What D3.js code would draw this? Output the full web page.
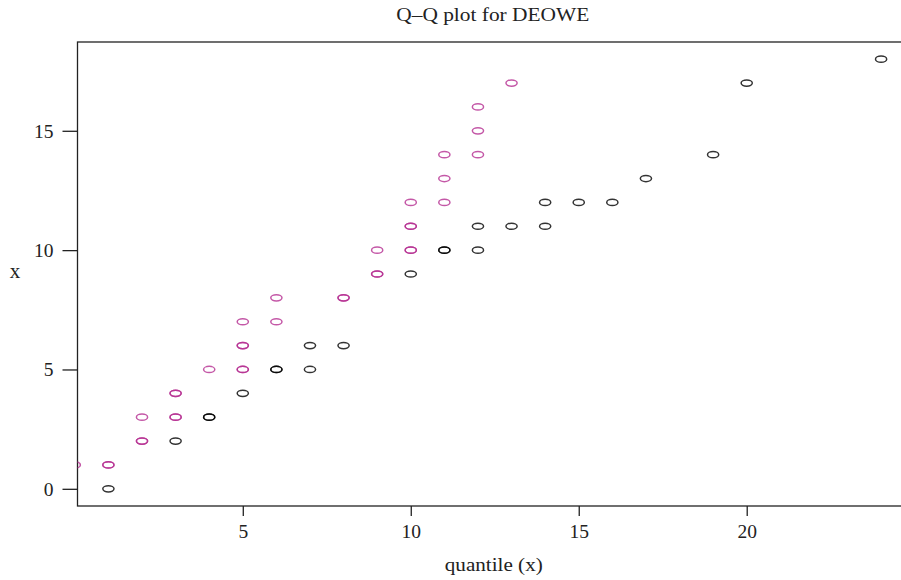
<!DOCTYPE html>
<html>
<head>
<meta charset="utf-8">
<script src="https://cdn.jsdelivr.net/npm/d3@7"></script>
<style>
  html, body { margin: 0; padding: 0; background: #fff; }
  svg { display: block; }
  text { font-family: "Liberation Serif", "DejaVu Serif", serif; fill: #222; }
</style>
</head>
<body>
<svg id="chart" width="901" height="580"></svg>
<script>
// ---- data ----
const blackX = [1, 3, 4, 4, 5, 6, 6, 7, 7, 8, 10, 11, 11, 12, 12, 13, 14, 14, 15, 16, 17, 19, 20, 24];
const blackY = [0, 2, 3, 3, 4, 5, 5, 5, 6, 6, 9, 10, 10, 10, 11, 11, 11, 12, 12, 12, 13, 14, 17, 18];
const magentaX = [0, 1, 1, 2, 2, 2, 3, 3, 3, 3, 4, 5, 5, 5, 5, 5, 6, 6, 8, 8, 9, 9, 9, 10, 10, 10, 10, 10, 11, 11, 11, 12, 12, 12, 13];
const magentaY = [1, 1, 1, 2, 2, 3, 3, 3, 4, 4, 5, 5, 5, 6, 6, 7, 7, 8, 8, 8, 9, 9, 10, 10, 10, 11, 11, 12, 12, 13, 14, 14, 15, 16, 17];
const xTicks = [5, 10, 15, 20];
const yTicks = [0, 5, 10, 15];
const titleText = "Q–Q plot for DEOWE";
const xLabel = "quantile (x)";
const yLabel = "x";

// ---- layout ----
const pLeft = 77.5, pRight = 912, pTop = 42, pBottom = 506;
const svg = d3.select("#chart");

const x = d3.scaleLinear().domain([0.08, 24.92]).range([pLeft, pRight]);
const y = d3.scaleLinear().domain([-0.72, 18.72]).range([pBottom, pTop]);

svg.append("defs").append("clipPath").attr("id", "plotclip")
  .append("rect").attr("x", pLeft).attr("y", pTop)
  .attr("width", pRight - pLeft).attr("height", pBottom - pTop);

// frame
svg.append("rect")
  .attr("x", pLeft).attr("y", pTop)
  .attr("width", pRight - pLeft).attr("height", pBottom - pTop)
  .attr("fill", "none").attr("stroke", "#222").attr("stroke-width", 1.3);

// x axis
const xAxis = d3.axisBottom(x).tickValues(xTicks).tickSize(10).tickPadding(8).tickFormat(d3.format("d"));
const gx = svg.append("g").attr("transform", `translate(0,${pBottom})`).call(xAxis);
gx.select(".domain").remove();
gx.selectAll(".tick line").attr("stroke", "#222").attr("stroke-width", 1.3);
gx.selectAll(".tick text").attr("font-size", 19.5).attr("fill", "#222")
  .attr("font-family", '"Liberation Serif", serif');

// y axis
const yAxis = d3.axisLeft(y).tickValues(yTicks).tickSize(15).tickPadding(9).tickFormat(d3.format("d"));
const gy = svg.append("g").attr("transform", `translate(${pLeft},0)`).call(yAxis);
gy.select(".domain").remove();
gy.selectAll(".tick line").attr("stroke", "#222").attr("stroke-width", 1.3);
gy.selectAll(".tick text").attr("font-size", 19.5).attr("fill", "#222")
  .attr("font-family", '"Liberation Serif", serif');

// points
const pts = svg.append("g").attr("clip-path", "url(#plotclip)");
function drawSeries(xs, ys, color) {
  const data = xs.map((v, i) => ({ x: v, y: ys[i] }));
  pts.append("g").selectAll("ellipse").data(data).join("ellipse")
    .attr("cx", d => x(d.x)).attr("cy", d => y(d.y))
    .attr("rx", 5.6).attr("ry", 3.1)
    .attr("fill", "none").attr("stroke", color)
    .attr("stroke-width", 1.5).attr("stroke-opacity", 0.8);
}
drawSeries(blackX, blackY, "#000000");
drawSeries(magentaX, magentaY, "#B52E91");

// labels
svg.append("text").attr("x", (pLeft + pRight) / 2 - 2).attr("y", 21)
  .attr("text-anchor", "middle").attr("font-size", 18.5)
  .attr("textLength", 193).attr("lengthAdjust", "spacingAndGlyphs")
  .text(titleText);

svg.append("text").attr("x", (pLeft + pRight) / 2 - 1).attr("y", 571)
  .attr("text-anchor", "middle").attr("font-size", 18.5)
  .attr("textLength", 98).attr("lengthAdjust", "spacingAndGlyphs")
  .text(xLabel);

svg.append("text").attr("x", 15).attr("y", 278)
  .attr("text-anchor", "middle").attr("font-size", 21)
  .text(yLabel);
</script>
</body>
</html>
